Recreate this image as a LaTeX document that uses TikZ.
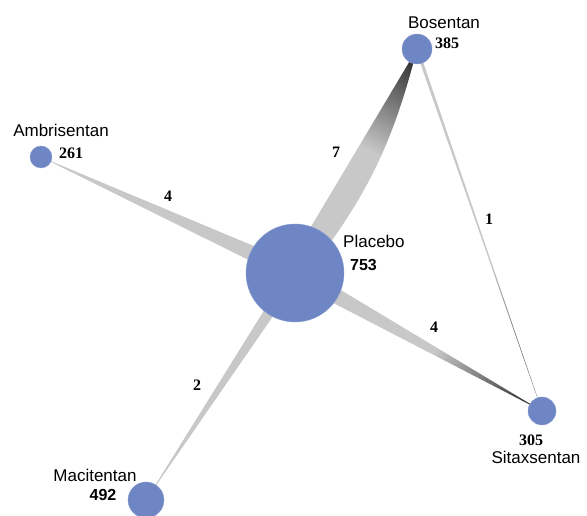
\documentclass[tikz,border=0pt]{standalone}
\usepackage{fontspec}
\setmainfont{Liberation Serif}
\setsansfont{Liberation Sans}
\usetikzlibrary{calc, backgrounds}
\definecolor{nodeblue}{RGB}{110,134,196}
\definecolor{edgelight}{RGB}{200,200,200}
\definecolor{edgedark}{RGB}{55,55,55}
\pgfdeclareverticalshading{tipdark}{100bp}{color(0bp)=(edgelight); color(55bp)=(edgelight); color(80bp)=(edgedark); color(100bp)=(edgedark)}
\tikzset{x=1pt, y=1pt,
  drug/.style={circle, fill=nodeblue, draw=nodeblue!80!white, inner sep=0pt, minimum size=#1},
  drugname/.style={font=\sffamily\fontsize{17}{17}\selectfont, inner sep=0pt},
  samplesize/.style={font=\bfseries\fontsize{16}{16}\selectfont, inner sep=0pt},
  trials/.style={font=\bfseries\fontsize{16}{16}\selectfont, inner sep=0pt},
  plain edge/.style={fill=edgelight},
  dark edge/.style={shading=tipdark, shading angle=#1},
}
% tapered link: wide end at #2, point at #3, optional bulge #1
\newcommand{\ribbon}[5][0]{%
  \path[#5] ($(#2.center)!#4!90:(#3.center)$) -- (#3.center) to[bend left=#1] ($(#2.center)!#4!-90:(#3.center)$) -- cycle;}

\begin{document}
\begin{tikzpicture}
	\useasboundingbox (0,0) rectangle (587,516);
	% treatments
	\node[drug=98pt] (pla) at (295,243) {};
	\node[drug=30pt] (bos) at (417,467) {};
	\node[drug=22pt] (amb) at (41,359) {};
	\node[drug=36pt] (mac) at (146,16) {};
	\node[drug=28pt] (sit) at (542,105) {};
	% comparisons
	\begin{scope}[on background layer]
		\ribbon[12]{pla}{bos}{10pt}{dark edge=-28.6}
		\ribbon{pla}{amb}{9pt}{plain edge}
		\ribbon{pla}{mac}{6.5pt}{plain edge}
		\ribbon{pla}{sit}{9pt}{dark edge=-119.2}
		\ribbon{bos}{sit}{1.6pt}{dark edge=-161}
	\end{scope}
	% names and patients
	\node[drugname, anchor=west] (planame) at (343,275) {Placebo};
	\node[samplesize, font=\sffamily\bfseries\fontsize{16}{16}\selectfont, anchor=west] (planum) at (350,251) {753};
	\node[drugname] (bosname) at (444,493) {Bosentan};
	\node[samplesize] (bosnum) at (447,473) {385};
	\node[drugname] (ambname) at (61,386) {Ambrisentan};
	\node[samplesize] (ambnum) at (71,363) {261};
	\node[drugname] (macname) at (95,41) {Macitentan};
	\node[samplesize, font=\sffamily\bfseries\fontsize{16}{16}\selectfont] (macnum) at (103,21) {492};
	\node[samplesize] (sitnum) at (531,76) {305};
	\node[drugname] (sitname) at (536,59) {Sitaxsentan};
	% number of trials
	\node[trials] (t1) at (336,364) {7};
	\node[trials] (t2) at (168,320) {4};
	\node[trials] (t3) at (434,189) {4};
	\node[trials] (t4) at (489,297) {1};
	\node[trials] (t5) at (197,131) {2};
\end{tikzpicture}
\end{document}
